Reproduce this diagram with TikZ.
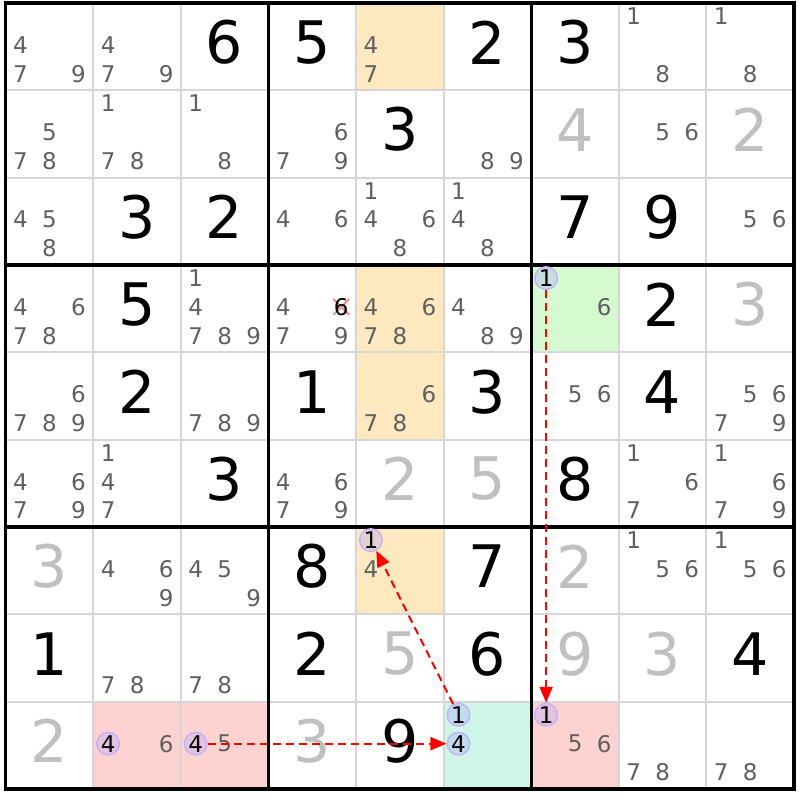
\documentclass[tikz,border=0pt]{standalone}
\usepackage{fontspec}
\setmainfont{DejaVu Sans}
\usetikzlibrary{arrows.meta,calc,positioning}
\definecolor{candgray}{RGB}{96,96,96}
\definecolor{solvedgray}{RGB}{192,192,192}
\definecolor{peach}{RGB}{253,232,192}
\definecolor{palegreen}{RGB}{214,250,208}
\definecolor{palered}{RGB}{255,210,210}
\definecolor{mint}{RGB}{206,246,232}
\definecolor{ringcol}{RGB}{196,176,250}
\definecolor{ringfill}{RGB}{176,168,250}
\definecolor{linegray}{RGB}{214,214,214}
\definecolor{strikecol}{RGB}{240,140,150}
\newcommand{\clue}[3]{\node[given] (g#1#2) at ({#2+0.5},{#1+0.45}) {#3};}
\newcommand{\sol}[3]{\node[solved] (s#1#2) at ({#2+0.5},{#1+0.45}) {#3};}
\newcommand{\cands}[3]{\foreach \d in {#3}{\node[cand] (k#1#2\d) at ({#2+0.171+0.331*mod(\d-1,3)},{#1+0.149+0.331*div(\d-1,3)}) {\d};}}
\newcommand{\ringed}[3]{\node[ring] (k#1#2#3) at ({#2+0.171+0.331*mod(#3-1,3)},{#1+0.149+0.331*div(#3-1,3)}) {#3};}
\begin{document}
\begin{tikzpicture}[x=43.8pt,y=-43.67pt,
given/.style={inner sep=0pt,font=\fontsize{29.3}{30}\selectfont},
solved/.style={given,text=solvedgray},
cand/.style={inner sep=0pt,text=candgray,font=\fontsize{11.5}{12}\selectfont},
ring/.style={cand,circle,draw=ringcol,line width=0.7pt,fill=ringfill,fill opacity=0.35,draw opacity=1,text opacity=1,text=black,minimum size=11.3pt},
link/.style={red,dash pattern=on 4pt off 2.5pt,line width=1pt,-{Triangle[length=8pt,width=6.5pt]}},
strike/.style={strikecol,line width=1pt},
gridline/.style={linegray,line width=1pt},
boxline/.style={black,line width=1.6pt}]
\useasboundingbox (-0.0628,-0.0343) rectangle (9.0696,9.1242);
\fill[white] (-0.0628,-0.0343) rectangle (9.0696,9.1242);
\fill[peach] (4,0) rectangle (5,1);
\fill[peach] (4,3) rectangle (5,5);
\fill[peach] (4,6) rectangle (5,7);
\fill[palegreen] (6,3) rectangle (7,4);
\fill[palered] (1,8) rectangle (3,9);
\fill[palered] (6,8) rectangle (7,9);
\fill[mint] (5,8) rectangle (6,9);
\foreach \i in {1,...,8}
\draw[gridline] (\i,0) -- (\i,9) (0,\i) -- (9,\i);
\foreach \i in {3,6}
\draw[boxline] (\i,0) -- (\i,9) (0,\i) -- (9,\i);
\draw[boxline] (0,0) rectangle (9,9);
\cands{0}{0}{4,7,9} \cands{0}{1}{4,7,9} \clue{0}{2}{6} \clue{0}{3}{5} \cands{0}{4}{4,7} \clue{0}{5}{2} \clue{0}{6}{3} \cands{0}{7}{1,8} \cands{0}{8}{1,8}
\cands{1}{0}{5,7,8} \cands{1}{1}{1,7,8} \cands{1}{2}{1,8} \cands{1}{3}{6,7,9} \clue{1}{4}{3} \cands{1}{5}{8,9} \sol{1}{6}{4} \cands{1}{7}{5,6} \sol{1}{8}{2}
\cands{2}{0}{4,5,8} \clue{2}{1}{3} \clue{2}{2}{2} \cands{2}{3}{4,6} \cands{2}{4}{1,4,6,8} \cands{2}{5}{1,4,8} \clue{2}{6}{7} \clue{2}{7}{9} \cands{2}{8}{5,6}
\cands{3}{0}{4,6,7,8} \clue{3}{1}{5} \cands{3}{2}{1,4,7,8,9} \cands{3}{3}{4,7,9} \cands{3}{4}{4,6,7,8} \cands{3}{5}{4,8,9} \ringed{3}{6}{1} \cands{3}{6}{6} \clue{3}{7}{2} \sol{3}{8}{3}
\cands{4}{0}{6,7,8,9} \clue{4}{1}{2} \cands{4}{2}{7,8,9} \clue{4}{3}{1} \cands{4}{4}{6,7,8} \clue{4}{5}{3} \cands{4}{6}{5,6} \clue{4}{7}{4} \cands{4}{8}{5,6,7,9}
\cands{5}{0}{4,6,7,9} \cands{5}{1}{1,4,7} \clue{5}{2}{3} \cands{5}{3}{4,6,7,9} \sol{5}{4}{2} \sol{5}{5}{5} \clue{5}{6}{8} \cands{5}{7}{1,6,7} \cands{5}{8}{1,6,7,9}
\sol{6}{0}{3} \cands{6}{1}{4,6,9} \cands{6}{2}{4,5,9} \clue{6}{3}{8} \ringed{6}{4}{1} \cands{6}{4}{4} \clue{6}{5}{7} \sol{6}{6}{2} \cands{6}{7}{1,5,6} \cands{6}{8}{1,5,6}
\clue{7}{0}{1} \cands{7}{1}{7,8} \cands{7}{2}{7,8} \clue{7}{3}{2} \sol{7}{4}{5} \clue{7}{5}{6} \sol{7}{6}{9} \sol{7}{7}{3} \clue{7}{8}{4}
\sol{8}{0}{2} \ringed{8}{1}{4} \cands{8}{1}{6} \ringed{8}{2}{4} \cands{8}{2}{5} \sol{8}{3}{3} \clue{8}{4}{9} \ringed{8}{5}{1} \ringed{8}{5}{4} \ringed{8}{6}{1} \cands{8}{6}{5,6} \cands{8}{7}{7,8} \cands{8}{8}{7,8}
\draw[strike] (3.743,3.39) -- (3.923,3.57) (3.743,3.57) -- (3.923,3.39);
\node[cand,text=black] (k336) at (3.833,3.48) {6};
\draw[link] (k361) -- (k861);
\draw[link] (k851) -- (k641);
\draw[link] (k824) -- (k854);
\end{tikzpicture}
\end{document}
